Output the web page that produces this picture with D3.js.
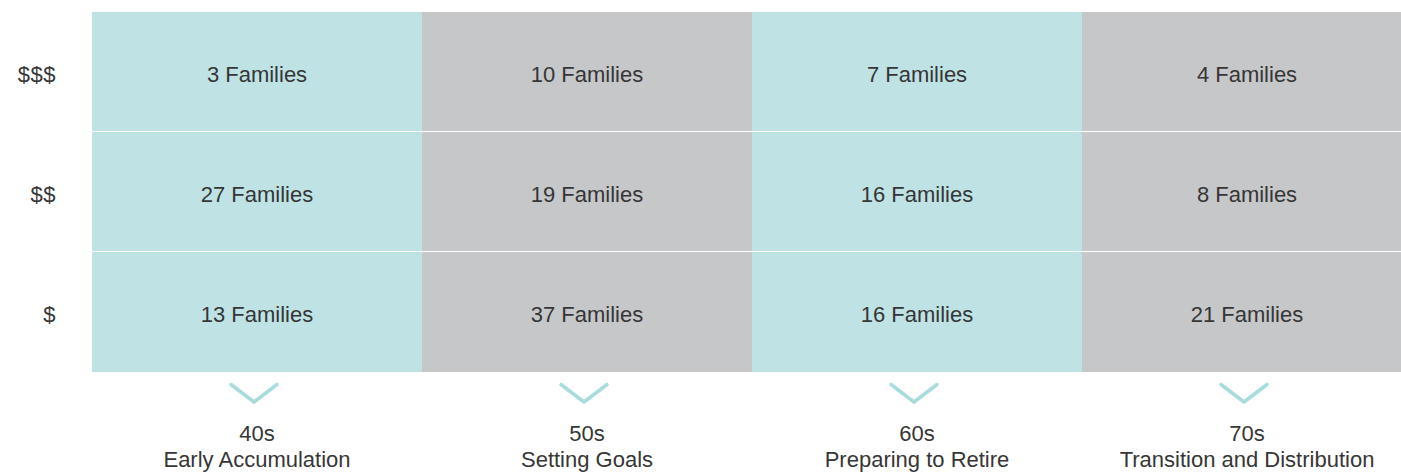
<!DOCTYPE html>
<html>
<head>
<meta charset="utf-8">
<script src="https://cdn.jsdelivr.net/npm/d3@7"></script>
<style>
  html, body { margin: 0; padding: 0; background: #fff; overflow: hidden; }
  svg { display: block; }
  text { font-family: "Liberation Sans", Arial, sans-serif; fill: #363636; }
</style>
</head>
<body>
<script>
const ages = ["40s", "50s", "60s", "70s"];
const stages = ["Early Accumulation", "Setting Goals", "Preparing to Retire", "Transition and Distribution"];
const tiers = ["$$$", "$$", "$"];
const counts = [
  [3, 10, 7, 4],
  [27, 19, 16, 8],
  [13, 37, 16, 21]
];
const colFills = ["#bfe3e5", "#c6c7c9", "#bfe3e5", "#c6c7c9"];

const W = 1401, H = 472;
const FS = 22;
const svg = d3.select("body").append("svg").attr("width", W).attr("height", H);

const x = d3.scaleBand().domain(ages).range([92, 1412]);
const y = d3.scaleBand().domain(tiers).range([12, 372]);

const cells = [];
tiers.forEach((t, r) => ages.forEach((a, c) => cells.push({ t, a, c, v: counts[r][c] })));

svg.append("g").selectAll("rect").data(cells).join("rect")
  .attr("x", d => x(d.a))
  .attr("y", d => y(d.t))
  .attr("width", x.bandwidth())
  .attr("height", d => y.bandwidth() - (d.t === "$" ? 0 : 1))
  .attr("fill", d => colFills[d.c]);

svg.append("g").selectAll("text").data(cells).join("text")
  .attr("x", d => x(d.a) + x.bandwidth() / 2)
  .attr("y", d => y(d.t) + y.bandwidth() / 2 + 10)
  .attr("text-anchor", "middle")
  .attr("font-size", FS)
  .text(d => d.v + " Families");

// row labels
svg.append("g").selectAll("text").data(tiers).join("text")
  .attr("x", 56)
  .attr("y", d => y(d) + y.bandwidth() / 2 + 10)
  .attr("text-anchor", "end")
  .attr("font-size", FS)
  .attr("letter-spacing", 0.5)
  .text(d => d);

// chevrons
svg.append("g").selectAll("path").data(ages).join("path")
  .attr("d", d => {
    const cx = x(d) + x.bandwidth() / 2 - 3;
    return `M${cx - 23},${384.5} L${cx},${402} L${cx + 23},${384.5}`;
  })
  .attr("fill", "none")
  .attr("stroke", "#a8dcdd")
  .attr("stroke-width", 3.5)
  .attr("stroke-linecap", "round")
  .attr("stroke-linejoin", "round");

// column labels
const lab = svg.append("g").selectAll("g").data(ages).join("g")
  .attr("transform", d => `translate(${x(d) + x.bandwidth() / 2},0)`);
lab.append("text").attr("y", 441).attr("text-anchor", "middle").attr("font-size", FS).text(d => d);
lab.append("text").attr("y", 467).attr("text-anchor", "middle").attr("font-size", FS).text((d, i) => stages[i]);
</script>
</body>
</html>
